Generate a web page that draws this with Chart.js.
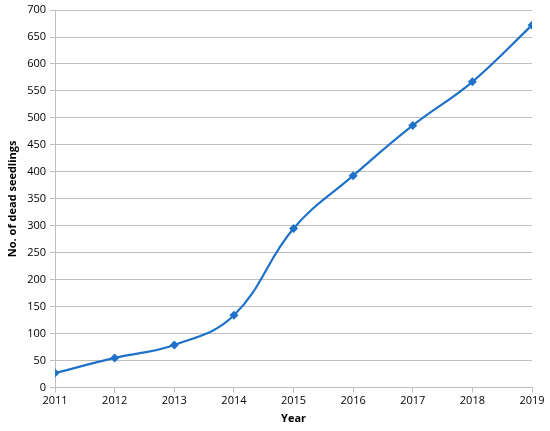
<!DOCTYPE html>
<html>
<head>
<meta charset="utf-8">
<script src="https://cdn.jsdelivr.net/npm/chart.js@4"></script>
<style>
  html, body { margin: 0; padding: 0; background: #fff; }
  #wrap { width: 550px; height: 431px; position: relative; }
</style>
</head>
<body>
<div id="wrap"><canvas id="chart"></canvas></div>
<script>
const years = [2011, 2012, 2013, 2014, 2015, 2016, 2017, 2018, 2019];
const deadSeedlings = [27, 55, 79, 134, 295, 393, 486, 567, 672];

const GRID = '#bfbfbf';
const LINE = '#1f72c9';

Chart.defaults.font.family = "'Open Sans','Liberation Sans',sans-serif";
Chart.defaults.font.size = 11;
Chart.defaults.color = '#000';

new Chart(document.getElementById('chart').getContext('2d'), {
  type: 'line',
  data: {
    datasets: [{
      label: 'No. of dead seedlings',
      data: years.map((y, i) => ({ x: y, y: deadSeedlings[i] })),
      borderColor: LINE,
      backgroundColor: LINE,
      borderWidth: 2.2,
      tension: 0.4,
      pointStyle: 'rectRot',
      pointRadius: 4.5,
      pointBorderWidth: 0,
    }]
  },
  options: {
    responsive: true,
    maintainAspectRatio: false,
    animation: false,
    layout: { padding: { left: 2, right: 18, top: 0, bottom: 2 } },
    plugins: { legend: { display: false }, tooltip: { enabled: false } },
    scales: {
      x: {
        type: 'linear',
        min: 2011, max: 2019,
        grid: { drawOnChartArea: false, color: GRID, tickLength: 5 },
        border: { color: GRID },
        ticks: { stepSize: 1, callback: v => String(v), padding: 2, maxRotation: 0 },
        title: { display: true, text: 'Year', font: { weight: 'bold', size: 11 }, padding: { top: 2 } }
      },
      y: {
        min: 0, max: 700,
        grid: { color: GRID, tickLength: 5 },
        border: { color: GRID },
        ticks: { stepSize: 50, padding: 4, font: { lineHeight: 1.1 } },
        title: { display: true, text: 'No. of dead seedlings', font: { weight: 'bold', size: 11 }, padding: { top: 4, bottom: 4 } }
      }
    }
  }
});
</script>
</body>
</html>
